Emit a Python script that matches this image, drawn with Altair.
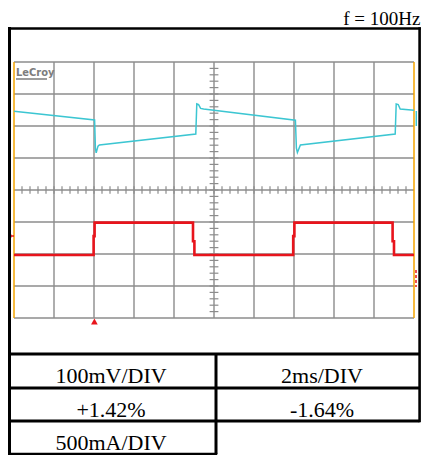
import altair as alt
import pandas as pd

# ---------------- data ----------------
title_text = "f = 100Hz"
logo_text = "LeCroy"

table_labels = ["100mV/DIV", "2ms/DIV", "+1.42%", "-1.64%", "500mA/DIV"]
table_cols = [0, 1, 0, 1, 0]
table_rows = [0, 0, 1, 1, 2]

# channel 1 (teal), time in ms, value in mV relative to screen centre (100 mV/div)
ch1_t = [0.0, 4.03, 4.07, 4.11, 4.20, 4.27, 9.09, 9.14, 9.23, 9.33, 9.48,
         14.07, 14.12, 14.17, 14.32, 19.06, 19.11, 19.21, 19.31, 20.0]
ch1_mv = [246, 219, 131, 116, 137, 141, 175, 269, 267, 255, 253,
          218, 131, 117, 141, 175, 269, 267, 253, 249]

# channel 2 (red), time in ms, value in mA relative to screen centre (500 mA/div)
ch2_t = [0.0, 3.98, 3.98, 4.03, 4.03, 8.95, 8.95, 9.02, 9.02,
         13.96, 13.96, 14.02, 14.02, 18.93, 18.93, 19.0, 19.0, 20.0]
ch2_ma = [-1015, -1015, -720, -720, -510, -510, -800, -800, -1015,
          -1015, -720, -720, -510, -510, -800, -800, -1015, -1015]

trigger_t = [4.02]

grid_t = [2, 4, 6, 8, 10, 12, 14, 16, 18]
grid_div = [-4, -3, -2, -1, 0, 1, 2, 3, 4]

# ---------------- styling ----------------
W, H = 400, 256
OX, OY = 14, 62          # page position of plot origin
GRID = "#8c8c8c"
TEAL = "#3cc6d2"
RED = "#e8141c"
ORANGE = "#f5a400"
SERIF = "Liberation Serif, Times New Roman, serif"

X = alt.Scale(domain=[0, 20], nice=False, zero=False)
Y = alt.Scale(domain=[-4, 4], nice=False, zero=False)

one = pd.DataFrame({"k": [0]})


def seg(x1, y1, x2, y2, color, w, dash=None, cap="butt"):
    kw = dict(color=color, strokeWidth=w, strokeCap=cap)
    if dash:
        kw["strokeDash"] = dash
    return alt.Chart(one).mark_rule(**kw).encode(
        x=alt.value(x1 - OX), y=alt.value(y1 - OY),
        x2=alt.value(x2 - OX), y2=alt.value(y2 - OY))


SL, SR, ST, SB = OX, OX + W, OY, OY + H   # scope edges (page px)

# grid
gv = alt.Chart(pd.DataFrame({"t": grid_t})).mark_rule(color=GRID, strokeWidth=1.4).encode(
    x=alt.X("t:Q", scale=X, axis=None), y=alt.value(0), y2=alt.value(H))
gh = alt.Chart(pd.DataFrame({"d": grid_div})).mark_rule(color=GRID, strokeWidth=1.4).encode(
    y=alt.Y("d:Q", scale=Y, axis=None), x=alt.value(0), x2=alt.value(W))

tick_t = [round(0.4 * i, 1) for i in range(1, 50)]
tick_d = [round(-4 + 0.2 * i, 1) for i in range(1, 40)]
mt_h = alt.Chart(pd.DataFrame({"t": tick_t, "lo": -0.12, "hi": 0.12})).mark_rule(
    color=GRID, strokeWidth=1.2).encode(
    x=alt.X("t:Q", scale=X, axis=None),
    y=alt.Y("lo:Q", scale=Y, axis=None), y2="hi:Q")
mt_v = alt.Chart(pd.DataFrame({"d": tick_d, "lo": 9.78, "hi": 10.22})).mark_rule(
    color=GRID, strokeWidth=1.2).encode(
    y=alt.Y("d:Q", scale=Y, axis=None),
    x=alt.X("lo:Q", scale=X, axis=None), x2="hi:Q")

edges = [
    seg(SL, ST, SL, SB, ORANGE, 1.5),
    seg(SR, ST, SR, SB, ORANGE, 1.5),
]

# traces
ch1_df = pd.DataFrame({"t": ch1_t, "mv": ch1_mv, "i": range(len(ch1_t))})
ch1_df["div"] = ch1_df["mv"] / 100.0
ch2_df = pd.DataFrame({"t": ch2_t, "ma": ch2_ma, "i": range(len(ch2_t))})
ch2_df["div"] = ch2_df["ma"] / 500.0

ch1 = alt.Chart(ch1_df).mark_line(color=TEAL, strokeWidth=1.5).encode(
    x=alt.X("t:Q", scale=X, axis=None), y=alt.Y("div:Q", scale=Y, axis=None), order="i:Q")
ch2 = alt.Chart(ch2_df).mark_line(color=RED, strokeWidth=2.6).encode(
    x=alt.X("t:Q", scale=X, axis=None), y=alt.Y("div:Q", scale=Y, axis=None), order="i:Q")

trig = alt.Chart(pd.DataFrame({"t": trigger_t})).mark_point(
    shape="triangle-up", filled=True, color=RED, size=45, opacity=1).encode(
    x=alt.X("t:Q", scale=X, axis=None), y=alt.value(H + 3.5))

markers = [
    seg(SL - 3, ST + 174, SL, ST + 174, RED, 1.5),
    seg(SL - 3, ST + 172.5, SL - 3, ST + 175.5, RED, 1.2),
    seg(SR + 2.3, ST + 49, SR + 2.3, ST + 64, TEAL, 1.5),
    seg(SR + 2, ST + 208, SR + 2, ST + 225, RED, 1.5, dash=[3, 2]),
]

logo = alt.Chart(pd.DataFrame({"s": [logo_text]})).mark_text(
    align="left", baseline="alphabetic", fontSize=11, fontWeight="bold",
    font="DejaVu Sans Condensed, DejaVu Sans", color="#7d7d7d").encode(
    x=alt.value(2), y=alt.value(14), text="s:N")
logo_line = seg(SL + 2, ST + 17, SL + 33, ST + 17, "#7d7d7d", 1.5)

# frame and table lines (page coordinates)
L, R, TOP = 9.5, 419.6, 28.5
T1, T2, T3, B = 354, 388, 421, 454
DIV = 216
frame = [
    seg(L, TOP, L, B, "black", 3, cap="square"),
    seg(L, TOP, R, TOP, "black", 2.5, cap="square"),
    seg(R, TOP, R, T3, "black", 2.6, cap="square"),
    seg(L, T1, R, T1, "black", 3),
    seg(L, T2, R, T2, "black", 3),
    seg(L, T3, R, T3, "black", 3),
    seg(L, B, DIV, B, "black", 2.5, cap="square"),
    seg(DIV, T1, DIV, B, "black", 3),
]

title = alt.Chart(pd.DataFrame({"s": [title_text]})).mark_text(
    align="right", baseline="alphabetic", font=SERIF, fontSize=19, color="black").encode(
    x=alt.value(420.5 - OX), y=alt.value(25 - OY), text="s:N")

scope = alt.layer(gv, gh, mt_h, mt_v, *edges, ch1, ch2, trig, *markers,
                  logo, logo_line, *frame, title)

tbl = pd.DataFrame({"label": table_labels, "col": table_cols, "row": table_rows})
table = alt.Chart(tbl).mark_text(
    font=SERIF, fontSize=22, align="center", baseline="alphabetic", color="black").encode(
    x=alt.X("col:Q", scale=alt.Scale(domain=[0, 1], range=[111 - OX, 322 - OX],
                                     nice=False, zero=False), axis=None),
    y=alt.Y("row:Q", scale=alt.Scale(domain=[0, 2], range=[T1 + 29 - OY, B - 4 - OY],
                                     nice=False, zero=False), axis=None),
    text="label:N")

chart = alt.layer(scope, table).resolve_scale(
    x="independent", y="independent"
).properties(
    width=W, height=H,
    autosize=alt.AutoSizeParams(type="none"),
    padding={"left": 6, "top": 54, "right": 7, "bottom": 137},
    background="white",
).configure_view(stroke=None)

chart.save("out.html", embed_options={"renderer": "svg", "actions": False})
